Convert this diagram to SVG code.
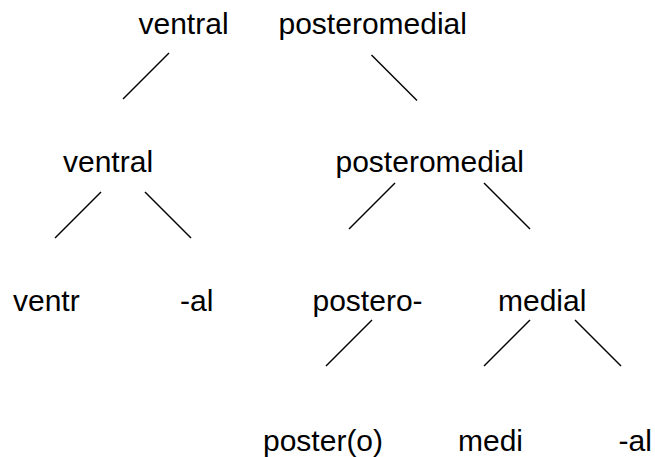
<svg xmlns="http://www.w3.org/2000/svg" width="655" height="457" viewBox="0 0 655 457">
<style>
text{font-family:"Liberation Sans",Arial,sans-serif;font-size:30px;fill:#000}
.c line{stroke:#000;stroke-width:1.5;stroke-linecap:butt}
</style>
<rect width="655" height="457" fill="#fff"/>
<g id="n-ventral1"><text x="138.5" y="34">ventral</text></g>
<g id="n-posteromedial1"><text x="278.5" y="34">posteromedial</text></g>
<g id="n-ventral2"><text x="63" y="172">ventral</text></g>
<g id="n-posteromedial2"><text x="335.5" y="172">posteromedial</text></g>
<g id="n-ventr"><text x="13" y="311">ventr</text></g>
<g id="n-al1"><text x="180" y="311">-al</text></g>
<g id="n-postero"><text x="312.5" y="311">postero-</text></g>
<g id="n-medial"><text x="498" y="311">medial</text></g>
<g id="n-postero2"><text x="263" y="451">poster(o)</text></g>
<g id="n-medi"><text x="458" y="451">medi</text></g>
<g id="n-al2"><text x="618.5" y="451">-al</text></g>
<g id="connectors" class="c">
<line x1="169" y1="53" x2="123" y2="99"/>
<line x1="371.5" y1="55" x2="417" y2="100.5"/>
<line x1="101" y1="192" x2="55" y2="238"/>
<line x1="145" y1="192" x2="191" y2="238"/>
<line x1="395" y1="183" x2="349" y2="229"/>
<line x1="484" y1="183" x2="530" y2="229"/>
<line x1="372" y1="320" x2="326" y2="366"/>
<line x1="530" y1="320" x2="484" y2="366"/>
<line x1="575" y1="320" x2="621" y2="366"/>
</g>
</svg>
